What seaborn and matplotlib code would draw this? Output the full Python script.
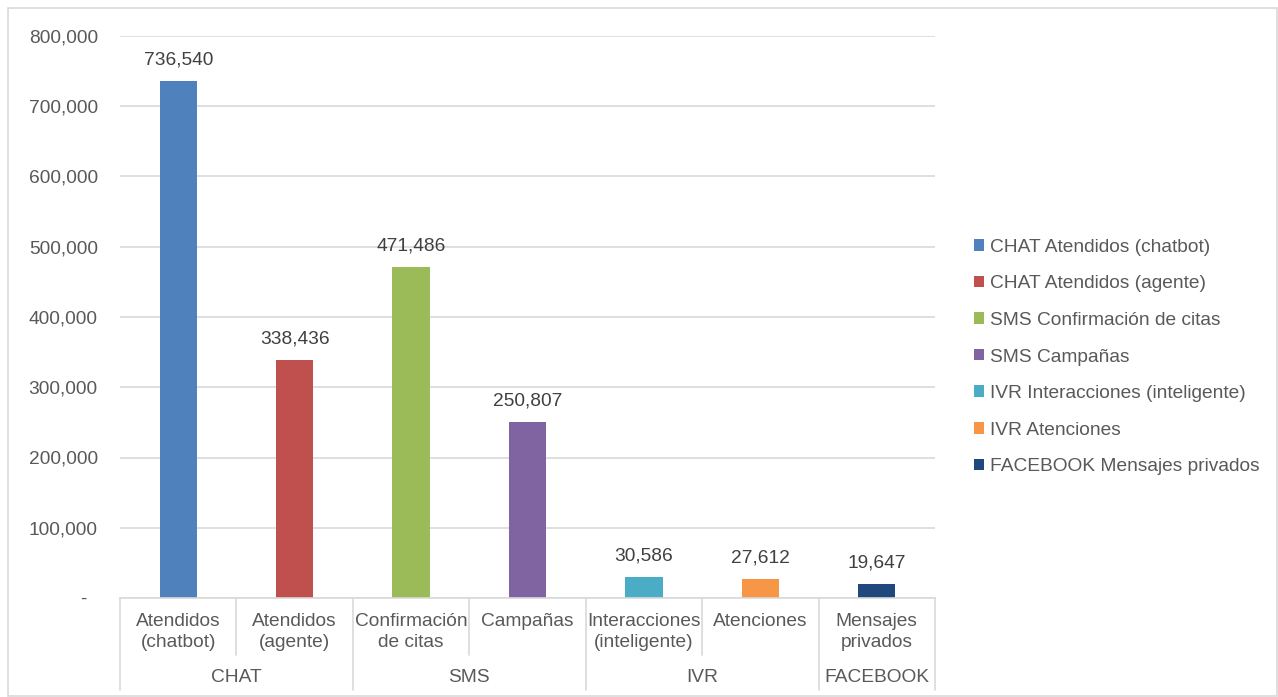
import matplotlib
matplotlib.use("Agg")
import matplotlib.pyplot as plt
import matplotlib.transforms as mtransforms
from matplotlib.patches import Patch, Rectangle
from matplotlib.ticker import FuncFormatter
import seaborn as sns
import pandas as pd

# ---- data ----
groups = ["CHAT", "CHAT", "SMS", "SMS", "IVR", "IVR", "FACEBOOK"]
subcats = ["Atendidos\n(chatbot)", "Atendidos\n(agente)", "Confirmación\nde citas", "Campañas",
           "Interacciones\n(inteligente)", "Atenciones", "Mensajes\nprivados"]
series = ["CHAT Atendidos (chatbot)", "CHAT Atendidos (agente)", "SMS Confirmación de citas",
          "SMS Campañas", "IVR Interacciones (inteligente)", "IVR Atenciones",
          "FACEBOOK Mensajes privados"]
values = [736540, 338436, 471486, 250807, 30586, 27612, 19647]
colors = ["#4F81BD", "#C0504D", "#9BBB59", "#8064A2", "#4BACC6", "#F79646", "#1F497D"]
group_names = ["CHAT", "SMS", "IVR", "FACEBOOK"]
yticks = [0, 100000, 200000, 300000, 400000, 500000, 600000, 700000, 800000]

sns.set_style("white")
plt.rcParams["font.family"] = ["Liberation Sans", "DejaVu Sans"]
FS = 13.8
TXT = "#595959"

W, H = 1278, 697
fig = plt.figure(figsize=(W / 100, H / 100), dpi=100)
left, right, top, bottom = 120, 935, 36, 598
ax = fig.add_axes([left / W, 1 - bottom / H, (right - left) / W, (bottom - top) / H])

df = pd.DataFrame({"pos": list(range(len(values))), "value": values, "series": series})
sns.barplot(data=df, x="pos", y="value", hue="series", palette=colors, dodge=False,
            width=0.32, ax=ax, legend=False, saturation=1, order=list(range(len(values))),
            linewidth=0)

ax.set_xlim(-0.5, len(values) - 0.5)
ax.set_ylim(0, 800000)
ax.set_yticks(yticks)
ax.yaxis.set_major_formatter(FuncFormatter(lambda v, p: "-  " if v == 0 else f"{v:,.0f}"))
ax.tick_params(axis="y", length=0, pad=16, labelsize=FS, labelcolor=TXT)
ax.set_xticks([])
ax.set_xlabel("")
ax.set_ylabel("")
ax.grid(axis="y", color="#D9D9D9", linewidth=1.2)
ax.set_axisbelow(True)
for s in ["top", "right", "left"]:
    ax.spines[s].set_visible(False)
ax.spines["bottom"].set_color("#D9D9D9")
ax.spines["bottom"].set_linewidth(1.2)

# data labels
for i, v in enumerate(values):
    ax.annotate(f"{v:,}", (i, v), xytext=(0, 9), textcoords="offset points",
                ha="center", va="bottom", fontsize=FS, color="#404040")

# multi-level category axis
trans = mtransforms.blended_transform_factory(ax.transData, ax.transAxes)
ph = bottom - top
def yfrac(py):
    return (bottom - py) / ph

line_kw = dict(color="#D9D9D9", linewidth=1.2, transform=trans, clip_on=False)
starts = [0]
for i in range(1, len(groups)):
    if groups[i] != groups[i - 1]:
        starts.append(i)
for b in range(len(values) + 1):
    x = b - 0.5
    full = (b in starts) or b == len(values)
    yend = 690 if full else 655
    ax.plot([x, x], [0, yfrac(yend)], **line_kw)

for i, lab in enumerate(subcats):
    ax.text(i, yfrac(613), lab, transform=trans, ha="center", va="top",
            fontsize=FS, color=TXT, linespacing=1.3)

bounds = starts + [len(values)]
for g in range(len(group_names)):
    xc = (bounds[g] + bounds[g + 1] - 1) / 2
    ax.text(xc, yfrac(677), group_names[g], transform=trans, ha="center", va="center",
            fontsize=FS, color=TXT)

# legend
handles = [Patch(facecolor=c, edgecolor="none") for c in colors]
fig.legend(handles, series, loc="center left", bbox_to_anchor=(964 / W, 1 - 357 / H),
           frameon=False, fontsize=FS, labelcolor=TXT, handlelength=0.55,
           handleheight=0.55, handletextpad=0.3, labelspacing=1.02, borderpad=0)

# chart border
fig.patches.append(Rectangle((8 / W, 1 / H), (W - 9) / W, (H - 9) / H, transform=fig.transFigure,
                             fill=False, edgecolor="#D9D9D9", linewidth=1.2))

fig.savefig("out.png", dpi=100)
